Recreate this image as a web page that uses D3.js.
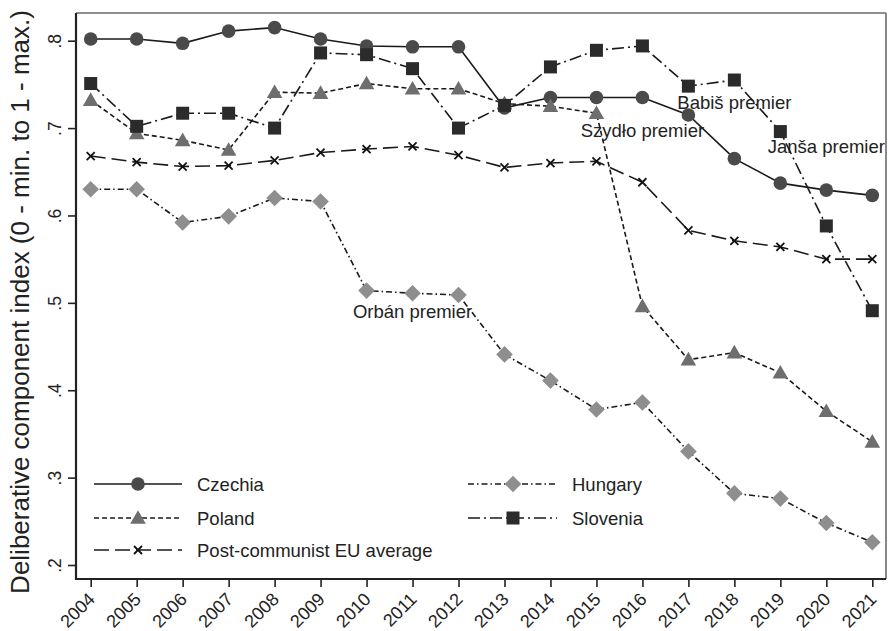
<!DOCTYPE html>
<html>
<head>
<meta charset="utf-8">
<script src="https://cdn.jsdelivr.net/npm/d3@7"></script>
<style>
  html, body { margin: 0; padding: 0; background: #fff; }
  svg { display: block; font-family: "Liberation Sans", Arial, sans-serif; }
</style>
</head>
<body>
<svg id="chart" width="889" height="631"></svg>
<script>
const years = [2004,2005,2006,2007,2008,2009,2010,2011,2012,2013,2014,2015,2016,2017,2018,2019,2020,2021];
const czechia  = [0.802,0.802,0.797,0.811,0.815,0.802,0.794,0.793,0.793,0.723,0.735,0.735,0.735,0.715,0.665,0.637,0.629,0.623];
const poland   = [0.732,0.694,0.686,0.675,0.741,0.740,0.751,0.745,0.745,0.728,0.725,0.717,0.496,0.435,0.443,0.420,0.376,0.341];
const average  = [0.668,0.661,0.656,0.657,0.663,0.672,0.676,0.679,0.669,0.655,0.660,0.662,0.638,0.583,0.571,0.564,0.550,0.550];
const hungary  = [0.630,0.630,0.592,0.599,0.620,0.616,0.514,0.511,0.509,0.441,0.411,0.378,0.386,0.330,0.282,0.276,0.248,0.226];
const slovenia = [0.751,0.702,0.717,0.717,0.700,0.786,0.784,0.768,0.700,0.726,0.770,0.789,0.794,0.748,0.755,0.696,0.588,0.491];
const yTicks = [0.2,0.3,0.4,0.5,0.6,0.7,0.8];
const yTickLabels = [".2",".3",".4",".5",".6",".7",".8"];
const annotLabels = ["Orbán premier","Szydło premier","Babiš premier","Janša premier"];
const annotYears  = [2011,2016,2018,2020];
const annotValues = [0.483,0.690,0.722,0.6715];
const yTitle = "Deliberative component index (0 - min. to 1 - max.)";

const series = [
  {name:"Czechia", values:czechia, marker:"circle", fill:"#4a4a4a", dash:null},
  {name:"Poland", values:poland, marker:"triangle", fill:"#6e6e6e", dash:"5,3"},
  {name:"Post-communist EU average", values:average, marker:"x", fill:"#111", dash:"15,6"},
  {name:"Hungary", values:hungary, marker:"diamond", fill:"#8e8e8e", dash:"6,3,1.5,3"},
  {name:"Slovenia", values:slovenia, marker:"square", fill:"#2b2b2b", dash:"12,4,2,4"}
];
const legendPos = [[0,0],[0,1],[0,2],[1,0],[1,1]];

const svg = d3.select("#chart");
const frame = {left:76, right:886, top:13, bottom:579};
const x = d3.scaleLinear().domain([2004,2021]).range([90.7,872.3]);
const y = d3.scaleLinear().domain([0.2,0.8]).range([565,40.7]);

svg.append("line").attr("x1",frame.left).attr("x2",frame.right).attr("y1",frame.top).attr("y2",frame.top)
  .attr("stroke","#6a6a6a").attr("stroke-width",1.6);
svg.append("line").attr("x1",frame.right).attr("x2",frame.right).attr("y1",frame.top).attr("y2",frame.bottom)
  .attr("stroke","#6a6a6a").attr("stroke-width",1.6);

const yAxis = d3.axisLeft(y).tickValues(yTicks).tickFormat((d,i)=>yTickLabels[i]).tickSize(8).tickSizeOuter(0);
const gy = svg.append("g").attr("transform",`translate(${frame.left},0)`).call(yAxis);
gy.select(".domain").remove();
gy.append("line").attr("x1",0).attr("x2",0).attr("y1",frame.top).attr("y2",frame.bottom+1)
  .attr("stroke","#222").attr("stroke-width",2.2);
gy.selectAll(".tick line").attr("stroke","#222").attr("stroke-width",1.6);
gy.selectAll(".tick text")
  .attr("font-size",17.5).attr("fill","#222").attr("text-anchor","middle")
  .attr("x",0).attr("dy",0)
  .attr("transform","translate(-20,0) rotate(-90)")
  .attr("y",0).attr("dominant-baseline","middle");

const xAxis = d3.axisBottom(x).tickValues(years).tickFormat(d3.format("d")).tickSize(8).tickSizeOuter(0);
const gx = svg.append("g").attr("transform",`translate(0,${frame.bottom})`).call(xAxis);
gx.select(".domain").remove();
gx.append("line").attr("x1",frame.left-1).attr("x2",frame.right).attr("y1",0).attr("y2",0)
  .attr("stroke","#222").attr("stroke-width",2.2);
gx.selectAll(".tick line").attr("stroke","#222").attr("stroke-width",1.6);
gx.selectAll(".tick text")
  .attr("font-size",18).attr("fill","#222").attr("text-anchor","end")
  .attr("x",0).attr("y",0).attr("dy",0)
  .attr("transform","translate(1.5,18) rotate(-45)")
  .attr("dominant-baseline","middle");

svg.append("text").attr("transform",`translate(29,${302}) rotate(-90)`)
  .attr("text-anchor","middle").attr("font-size",26).attr("fill","#222").text(yTitle);

function drawMarker(g, type, cx, cy, fill, scale) {
  const s = scale || 1;
  if (type === "circle") {
    g.append("circle").attr("cx",cx).attr("cy",cy).attr("r",6.8*s).attr("fill",fill);
  } else if (type === "triangle") {
    const h = 7.8*s;
    g.append("path").attr("d",`M${cx},${cy-h} L${cx+h},${cy+h*0.75} L${cx-h},${cy+h*0.75} Z`).attr("fill",fill);
  } else if (type === "diamond") {
    const h = 8.3*s;
    g.append("path").attr("d",`M${cx},${cy-h} L${cx+h},${cy} L${cx},${cy+h} L${cx-h},${cy} Z`).attr("fill",fill);
  } else if (type === "square") {
    const h = 6.5*s;
    g.append("rect").attr("x",cx-h).attr("y",cy-h).attr("width",2*h).attr("height",2*h).attr("fill",fill);
  } else if (type === "x") {
    const h = 4*s;
    g.append("path").attr("d",`M${cx-h},${cy-h} L${cx+h},${cy+h} M${cx-h},${cy+h} L${cx+h},${cy-h}`)
      .attr("stroke",fill).attr("stroke-width",1.8).attr("fill","none");
  }
}

const line = d3.line().x((d,i)=>x(years[i])).y(d=>y(d));
const plot = svg.append("g");
series.forEach(s => {
  plot.append("path").datum(s.values).attr("d",line).attr("fill","none")
    .attr("stroke","#1a1a1a").attr("stroke-width",1.6)
    .attr("stroke-dasharray",s.dash);
});
series.forEach(s => {
  const g = plot.append("g");
  s.values.forEach((v,i)=> drawMarker(g, s.marker, x(years[i]), y(v), s.fill));
});

annotLabels.forEach((t,i)=>{
  svg.append("text").attr("x",x(annotYears[i])).attr("y",y(annotValues[i]))
    .attr("text-anchor","middle").attr("font-size",18.5).attr("fill","#222").text(t);
});

const legCols = [{x0:94, x1:182, mx:138, tx:197},{x0:468, x1:557, mx:513, tx:572}];
const legRows = [484, 518, 550];
const leg = svg.append("g");
series.forEach((s,i)=>{
  const c = legCols[legendPos[i][0]], r = legRows[legendPos[i][1]];
  leg.append("line").attr("x1",c.x0).attr("x2",c.x1).attr("y1",r).attr("y2",r)
    .attr("stroke","#1a1a1a").attr("stroke-width",1.6).attr("stroke-dasharray",s.dash);
  drawMarker(leg, s.marker, c.mx, r, s.fill);
  leg.append("text").attr("x",c.tx).attr("y",r).attr("dy","0.36em")
    .attr("font-size",18.5).attr("fill","#222").text(s.name);
});
</script>
</body>
</html>
